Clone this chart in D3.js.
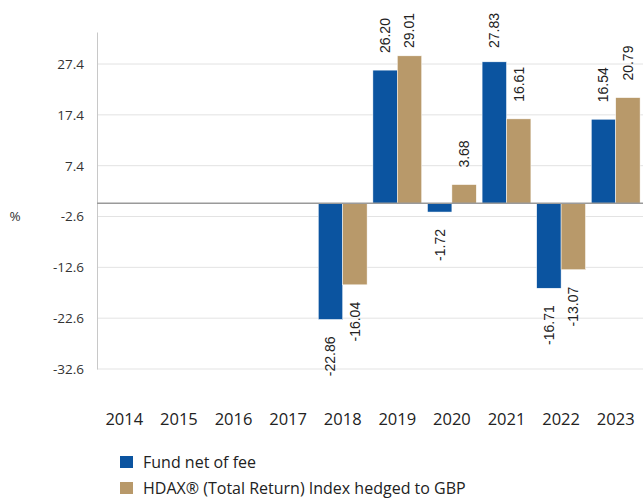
<!DOCTYPE html>
<html><head><meta charset="utf-8">
<script src="https://cdn.jsdelivr.net/npm/d3@7"></script>
<style>body{margin:0;background:#fff}svg{display:block}</style>
</head><body>
<svg id="c" width="643" height="498"></svg>
<script>
const years = ["2014","2015","2016","2017","2018","2019","2020","2021","2022","2023"];
const fund  = [null,null,null,null,-22.86,26.20,-1.72,27.83,-16.71,16.54];
const index = [null,null,null,null,-16.04,29.01,3.68,16.61,-13.07,20.79];
const seriesNames = ["Fund net of fee","HDAX® (Total Return) Index hedged to GBP"];
const colors = ["#0b54a0","#b8996a"];
const yTicks = [27.4,17.4,7.4,-2.6,-12.6,-22.6,-32.6];

const svg = d3.select("#c");
const L = 97, R = 643, T = 32, B = 369;
const y = d3.scaleLinear().domain([-32.6, 33.7]).range([B, T]);
const x = d3.scaleBand().domain(years).range([L, R]).paddingInner(0.106).paddingOuter(0.053);
const xs = d3.scaleBand().domain([0,1]).range([0, x.bandwidth()]);
const tickFont = "'Open Sans', sans-serif";

// gridlines
svg.append("g").selectAll("line").data(yTicks).join("line")
  .attr("x1", L).attr("x2", R).attr("y1", d=>y(d)).attr("y2", d=>y(d))
  .attr("stroke", "#e3e3e3").attr("stroke-width", 1);

// y axis
const ya = svg.append("g").attr("transform", `translate(${L},0)`)
  .call(d3.axisLeft(y).tickValues(yTicks).tickSize(0).tickPadding(13).tickFormat(d=>d.toFixed(1)));
ya.select(".domain").attr("stroke", "#c8c8c8");
ya.selectAll("text").attr("font-family", tickFont).attr("font-size", 13.5).attr("fill", "#333");

svg.append("text").attr("x", 15).attr("y", y(-2.6)).attr("dy", "0.35em")
  .attr("text-anchor", "middle").attr("font-family", tickFont).attr("font-size", 13.5).attr("fill", "#333").text("%");

// x axis labels
const xa = svg.append("g").attr("transform", `translate(0,${B})`)
  .call(d3.axisBottom(x).tickSize(0).tickPadding(44));
xa.select(".domain").remove();
xa.selectAll("text").attr("font-family", tickFont).attr("font-size", 16.5).attr("fill", "#222");

// bars
const data = [fund, index];
data.forEach((vals, si) => {
  const pts = years.map((yr,i)=>({yr, v: vals[i]})).filter(d=>d.v!=null);
  svg.append("g").selectAll("rect").data(pts).join("rect")
    .attr("x", d=>x(d.yr)+xs(si)).attr("width", xs.bandwidth())
    .attr("y", d=>y(Math.max(0,d.v))).attr("height", d=>Math.abs(y(d.v)-y(0)))
    .attr("fill", colors[si]).attr("stroke", "#fff").attr("stroke-width", 0.5);
  const g = svg.append("g");
  pts.forEach(d=>{
    const cx = x(d.yr)+xs(si)+xs.bandwidth()/2;
    const t = g.append("text").attr("font-family","Arial, 'Liberation Sans', sans-serif")
      .attr("font-size", 14).attr("fill", "#222").text(d.v.toFixed(2));
    const len = t.node().getComputedTextLength();
    let yy, anchor;
    if (d.v >= 0) {
      yy = Math.max(y(d.v) - 17, 13 + len); anchor = "start";
    } else {
      yy = Math.min(y(d.v) + 17, 377 - len); anchor = "end";
    }
    t.attr("text-anchor", anchor).attr("dy","0.35em")
      .attr("transform", `translate(${cx},${yy}) rotate(-90)`);
  });
});

// zero line
svg.append("line").attr("x1", L).attr("x2", R).attr("y1", y(0)).attr("y2", y(0))
  .attr("stroke", "#9a9a9a").attr("stroke-width", 1.5);

// legend
const lg = svg.append("g");
seriesNames.forEach((n,i)=>{
  const yy = 462 + i*26;
  lg.append("rect").attr("x", 120).attr("y", yy-6).attr("width", 13).attr("height", 12).attr("fill", colors[i]);
  lg.append("text").attr("x", 143).attr("y", yy).attr("dy","0.35em")
    .attr("font-family", tickFont).attr("font-size", 16).attr("fill", "#222").text(n);
});
</script>
</body></html>
